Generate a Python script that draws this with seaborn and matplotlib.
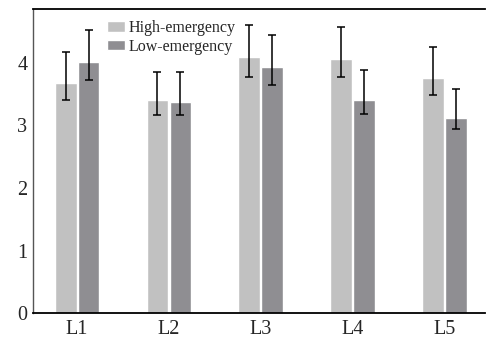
import numpy as np
import pandas as pd
import matplotlib.pyplot as plt
import seaborn as sns

# values
levels = ["L1", "L2", "L3", "L4", "L5"]
groups = ["High-emergency", "Low-emergency"]
high_mean = [3.68, 3.41, 4.10, 4.06, 3.76]
high_lo = [3.41, 3.16, 3.77, 3.77, 3.48]
high_hi = [4.17, 3.86, 4.60, 4.58, 4.26]
low_mean = [4.02, 3.37, 3.93, 3.41, 3.12]
low_lo = [3.72, 3.17, 3.64, 3.18, 2.95]
low_hi = [4.52, 3.85, 4.45, 3.89, 3.58]
colors = ["#c1c1c1", "#8f8e92"]

df = pd.DataFrame({
    "level": levels * 2,
    "group": [groups[0]] * 5 + [groups[1]] * 5,
    "score": high_mean + low_mean,
})

sns.set_style("white")
plt.rcParams["font.family"] = ["Liberation Serif", "DejaVu Serif"]

fig = plt.figure(figsize=(4.86, 3.38), dpi=100)
ax = fig.add_axes([33 / 486, 25 / 338, 452 / 486, 304 / 338])

sns.barplot(data=df, x="level", y="score", hue="group", order=levels,
            hue_order=groups, palette=colors, width=0.5, gap=0.05,
            errorbar=None, saturation=1, ax=ax)

bounds = [(high_mean, high_lo, high_hi), (low_mean, low_lo, low_hi)]
for cont, (m, lo, hi) in zip(ax.containers, bounds):
    xs = [p.get_x() + p.get_width() / 2 for p in cont.patches]
    m = np.array(m)
    yerr = [m - np.array(lo), np.array(hi) - m]
    ax.errorbar(xs, m, yerr=yerr, fmt="none", ecolor="black",
                elinewidth=1.1, capsize=3.2, capthick=1.1)

ax.set_xlim(-0.48, 4.44)
ax.set_ylim(0, 4.864)
ax.set_yticks([0, 1, 2, 3, 4])
ax.set_xlabel("")
ax.set_ylabel("")
ax.tick_params(axis="both", direction="in", labelsize=14.5, length=4,
               width=1, color="#222222", pad=4)
ax.tick_params(axis="x", pad=5)

ax.spines["right"].set_visible(False)
for s in ["top", "bottom"]:
    ax.spines[s].set_color("black")
    ax.spines[s].set_linewidth(1.3)
ax.spines["left"].set_color("#555555")
ax.spines["left"].set_linewidth(1.0)

handles, labels = ax.get_legend_handles_labels()
ax.legend(handles, labels, loc="upper left", bbox_to_anchor=(0.139, 1.0),
          frameon=False, fontsize=11.5, handlelength=1.13, handleheight=0.65,
          handletextpad=0.2, labelspacing=0.15, borderaxespad=0.3)

fig.savefig("out.png", dpi=100)
